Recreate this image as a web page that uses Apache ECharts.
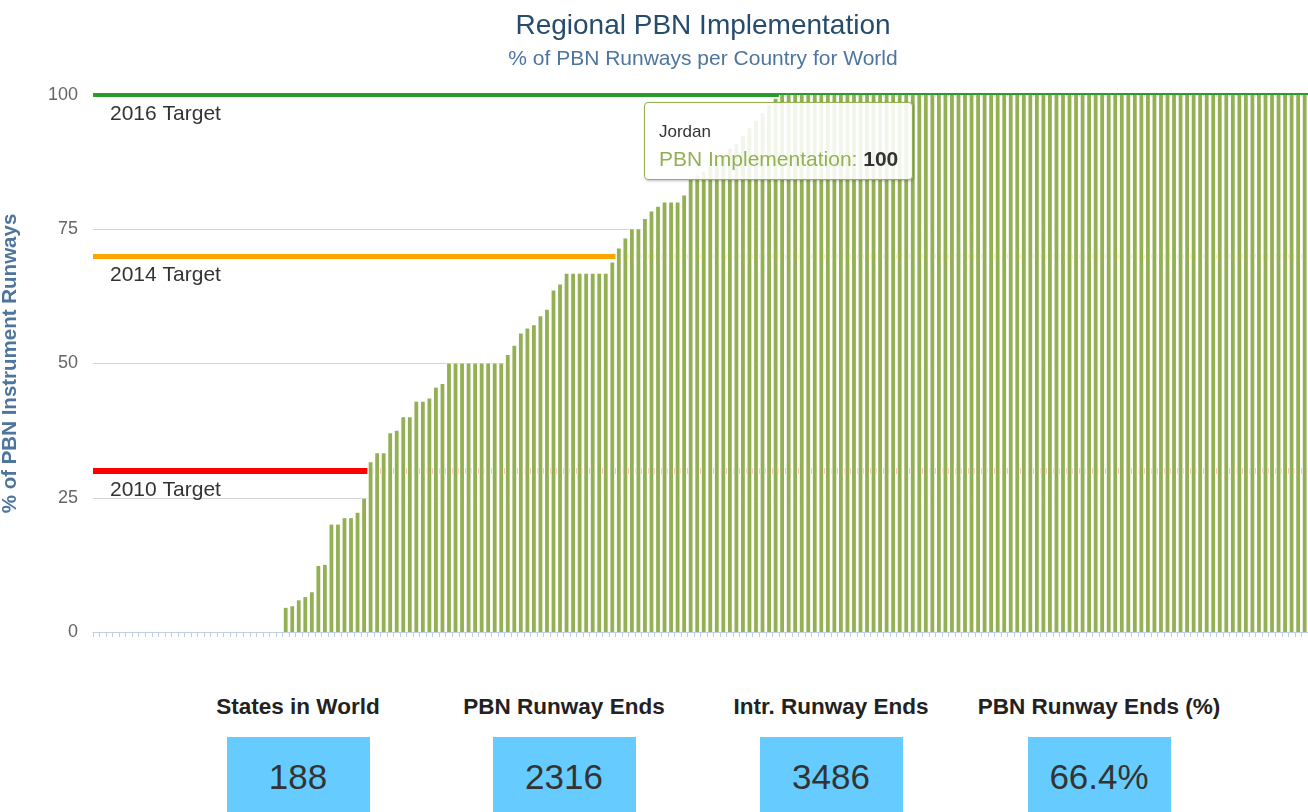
<!DOCTYPE html>
<html>
<head>
<meta charset="utf-8">
<title>Regional PBN Implementation</title>
<script src="https://cdn.jsdelivr.net/npm/echarts@6/dist/echarts.min.js"></script>
<style>
  html, body { margin: 0; padding: 0; background: #fff; overflow: hidden; width: 1308px; height: 812px; }
  body { position: relative; font-family: "Liberation Sans", Arial, sans-serif; }
  #chart { position: absolute; left: 0; top: 0; width: 1340px; height: 660px; }
  .stat { position: absolute; top: 690px; width: 267px; text-align: center; }
  .stat .lbl { font-weight: bold; font-size: 22.5px; color: #222; line-height: 34px; }
  .stat .box { margin: 13px auto 0; width: 143px; height: 90px; background: #66ccff;
    font-size: 35px; color: #333; line-height: 80px; }
</style>
</head>
<body>
<div id="chart"></div>
<div id="stats"></div>
<script>
// % of PBN runways per state, sorted ascending (188 states)
var pbnValues = [
  0,0,0,0,0,0,0,0,0,0, 0,0,0,0,0,0,0,0,0,0, 0,0,0,0,0,0,0,0,0,
  4.5, 4.8, 5.9, 6.5, 7.4, 12.3, 12.5, 20, 20, 21.2, 21.2, 22.2, 24.8,
  31.6, 33.3, 33.3, 37, 37.5, 40, 40, 42.9, 42.9, 43.5, 45.5, 46.2,
  50, 50, 50, 50, 50, 50, 50, 50, 50,
  51.6, 53.3, 55.6, 56.5, 57.1, 58.8, 60, 63.6, 64.7,
  66.7, 66.7, 66.7, 66.7, 66.7, 66.7, 66.7,
  68.8, 71.4, 73.3, 75, 75, 76.9, 78.3, 79.2, 80, 80, 80, 81.3,
  84.2, 85, 85.7, 86.7, 87.5, 88.9, 90, 90.9, 92.3, 93.8, 95.2, 96.6, 98.1, 99.3,
  100,100,100,100,100,100,100,100,100,100, 100,100,100,100,100,100,100,100,100,100,
  100,100,100,100,100,100,100,100,100,100, 100,100,100,100,100,100,100,100,100,100,
  100,100,100,100,100,100,100,100,100,100, 100,100,100,100,100,100,100,100,100,100,
  100,100,100,100,100,100,100,100,100,100, 100,100,100,100,100,100,100,100,100,100,
  100,100,100
];
var tipState = 'Jordan';
var tipIndex = 105;
var states = pbnValues.map(function (v, i) { return i === tipIndex ? tipState : 'State ' + (i + 1); });

var targetNames = ['2016 Target', '2014 Target', '2010 Target'];
var targetValues = [100, 70, 30];
var targetColors = ['#2a9a2a', '#ffa500', '#ff0000'];
var targetWidths = [4, 5, 6];

var yTicks = [0, 25, 50, 75, 100];

var statLabels = ['States in World', 'PBN Runway Ends', 'Intr. Runway Ends', 'PBN Runway Ends (%)'];
var statValues = ['188', '2316', '3486', '66.4%'];

var FONT = '"Liberation Sans", Arial, sans-serif';
var barColor = '#93b153';

var chart = echarts.init(document.getElementById('chart'), null, { renderer: 'canvas' });

var option = {
  animation: false,
  textStyle: { fontFamily: FONT },
  title: {
    text: 'Regional PBN Implementation',
    subtext: '% of PBN Runways per Country for World',
    left: 698,
    textAlign: 'center',
    top: 7,
    itemGap: 9,
    textStyle: { fontSize: 28, fontWeight: 'normal', color: '#274b6d', fontFamily: FONT },
    subtextStyle: { fontSize: 21, color: '#4d759e', fontFamily: FONT }
  },
  grid: { left: 93, top: 95, width: 1228, height: 537, outerBoundsMode: 'none' },
  tooltip: {
    trigger: 'item',
    triggerOn: 'none',
    alwaysShowContent: true,
    transitionDuration: 0,
    backgroundColor: 'rgba(255,255,255,0.88)',
    borderColor: barColor,
    borderWidth: 1,
    borderRadius: 4,
    padding: [18, 14, 8, 14],
    extraCssText: 'box-shadow: 1px 1px 3px rgba(0,0,0,0.25);',
    position: function (pt, params, dom, rect, size) {
      var p = chart.convertToPixel({ gridIndex: 0 }, [params.dataIndex, params.value]);
      return [p[0] - size.contentSize[0] / 2 - 4, p[1] + 7];
    },
    formatter: function (p) {
      return '<div style="font-family:' + FONT.replace(/"/g, "'") + ';">' +
        '<div style="font-size:17px;color:#333;line-height:22px;">' + p.name + '</div>' +
        '<div style="font-size:21px;color:' + barColor + ';line-height:24px;margin-top:4px;">PBN Implementation: ' +
        '<b style="color:#333;">' + p.value + '</b></div></div>';
    }
  },
  xAxis: [
    {
      type: 'category',
      data: states,
      z: 5,
      axisLine: { lineStyle: { color: '#c0d0e0', width: 1 } },
      axisTick: { show: true, interval: 0, length: 5, lineStyle: { color: '#c0d0e0' } },
      axisLabel: { show: false },
      splitLine: { show: false }
    },
    {
      // twin axis for the white column backing that hides the target lines
      type: 'category',
      data: states,
      show: false
    }
  ],
  yAxis: {
    type: 'value',
    min: yTicks[0],
    max: yTicks[yTicks.length - 1],
    interval: yTicks[1] - yTicks[0],
    name: '% of PBN Instrument Runways',
    nameLocation: 'middle',
    nameGap: 72,
    nameTextStyle: { fontSize: 20.5, fontWeight: 'bold', color: '#4d759e', fontFamily: FONT },
    axisLine: { show: false },
    axisTick: { show: false },
    axisLabel: { fontSize: 18, color: '#666', margin: 15, fontFamily: FONT },
    splitLine: { lineStyle: { color: '#d4d4d4', width: 1 } }
  },
  series: [
    {
      name: 'Targets',
      type: 'line',
      z: 1,
      data: [],
      silent: true,
      markLine: {
        silent: true,
        symbol: 'none',
        animation: false,
        z: 1,
        data: targetValues.map(function (v, i) {
          return {
            yAxis: v,
            lineStyle: { color: targetColors[i], width: targetWidths[i], type: 'solid' },
            label: {
              show: true,
              formatter: targetNames[i],
              position: 'insideStartBottom',
              distance: [17, 9],
              fontSize: 21,
              color: '#333',
              fontFamily: FONT
            }
          };
        })
      }
    },
    {
      name: 'Backing',
      type: 'bar',
      xAxisIndex: 1,
      z: 2,
      silent: true,
      data: pbnValues,
      barCategoryGap: '0%',
      itemStyle: { color: '#ffffff' }
    },
    {
      name: 'PBN Implementation',
      type: 'bar',
      xAxisIndex: 0,
      z: 3,
      data: pbnValues,
      barWidth: 3.8,
      itemStyle: { color: barColor }
    }
  ]
};

chart.setOption(option);
chart.dispatchAction({ type: 'showTip', seriesIndex: 2, dataIndex: tipIndex });

// stat boxes under the chart
var stats = document.getElementById('stats');
var centers = [298, 564, 831, 1099];
statLabels.forEach(function (lbl, i) {
  var d = document.createElement('div');
  d.className = 'stat';
  d.style.left = (centers[i] - 133.5) + 'px';
  d.innerHTML = '<div class="lbl">' + lbl + '</div><div class="box">' + statValues[i] + '</div>';
  stats.appendChild(d);
});
</script>
</body>
</html>
